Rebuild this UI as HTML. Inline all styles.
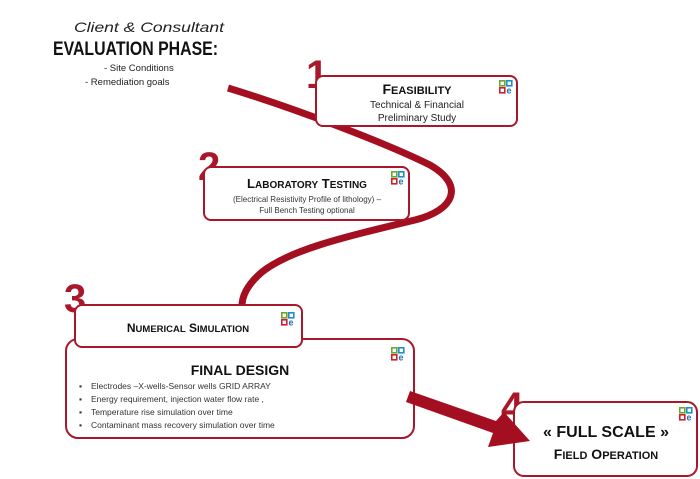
<!DOCTYPE html>
<html><head><meta charset="utf-8"><style>
body{margin:0;background:#fff;}
svg{display:block;}
text{font-family:"Liberation Sans",sans-serif;}
</style></head><body>
<svg width="700" height="479" viewBox="0 0 700 479" xmlns="http://www.w3.org/2000/svg">
<defs>
<g id="logo">
<rect x="0.8" y="0.8" width="5" height="5" fill="none" stroke="#6aa832" stroke-width="1.6"/>
<rect x="7.8" y="0.8" width="5" height="5" fill="none" stroke="#1f8fd0" stroke-width="1.6"/>
<rect x="0.8" y="7.8" width="5" height="5" fill="none" stroke="#d0202f" stroke-width="1.6"/>
<text x="7.5" y="13.5" font-size="9" font-weight="bold" fill="#1f6fb0">e</text>
</g>
</defs>
<!-- header -->
<text x="74" y="32" font-size="14" font-style="italic" fill="#222" textLength="150" lengthAdjust="spacingAndGlyphs">Client &amp; Consultant</text>
<text x="53" y="55" font-size="19" font-weight="bold" fill="#111" textLength="165" lengthAdjust="spacingAndGlyphs">EVALUATION PHASE:</text>
<text x="104" y="71" font-size="9.5" fill="#222">-  Site Conditions</text>
<text x="85" y="85" font-size="9.5" fill="#222">-    Remediation goals</text>
<!-- ribbon -->
<path d="M228,88 C300,110 390,145 430,165 C465,185 455,210 415,220 C340,238 290,250 262,272 C248,284 242,295 242,306" fill="none" stroke="#a30f20" stroke-width="7"/>
<!-- box1 -->
<text x="306" y="88" font-size="40" font-weight="bold" fill="#a8182a">1</text>
<rect x="316" y="76" width="201" height="50" rx="7" fill="#fff" stroke="#a8182a" stroke-width="2"/>
<text x="417" y="94" font-size="14" font-weight="bold" text-anchor="middle" fill="#111">F<tspan font-size="11">EASIBILITY</tspan></text>
<text x="417" y="108" font-size="10" text-anchor="middle" fill="#222">Technical &amp; Financial</text>
<text x="417" y="121" font-size="10" text-anchor="middle" fill="#222">Preliminary Study</text>
<use href="#logo" x="499" y="80"/>
<!-- box2 -->
<text x="198" y="180" font-size="40" font-weight="bold" fill="#a8182a">2</text>
<rect x="204" y="167" width="205" height="53" rx="7" fill="#fff" stroke="#a8182a" stroke-width="2"/>
<text x="307" y="188" font-size="13" font-weight="bold" text-anchor="middle" fill="#111">L<tspan font-size="10">ABORATORY</tspan> T<tspan font-size="10">ESTING</tspan></text>
<text x="307" y="202" font-size="8" text-anchor="middle" fill="#333">(Electrical Resistivity Profile of lithology) –</text>
<text x="307" y="213" font-size="8" text-anchor="middle" fill="#333">Full Bench Testing optional</text>
<use href="#logo" x="391" y="171"/>
<!-- final design -->
<rect x="66" y="339" width="348" height="99" rx="12" fill="#fff" stroke="#a8182a" stroke-width="2"/>
<text x="240" y="375" font-size="14" font-weight="bold" text-anchor="middle" fill="#111">FINAL DESIGN</text>
<g font-size="8.5" fill="#333">
<text x="79" y="389">▪</text><text x="91" y="389">Electrodes –X-wells-Sensor wells GRID ARRAY</text>
<text x="79" y="402">▪</text><text x="91" y="402">Energy requirement, injection water flow rate ,</text>
<text x="79" y="415">▪</text><text x="91" y="415">Temperature rise simulation over time</text>
<text x="79" y="428">▪</text><text x="91" y="428">Contaminant mass recovery simulation over time</text>
</g>
<use href="#logo" x="391" y="347"/>
<!-- box3 -->
<text x="64" y="312" font-size="40" font-weight="bold" fill="#a8182a">3</text>
<rect x="75" y="305" width="227" height="42" rx="7" fill="#fff" stroke="#a8182a" stroke-width="2"/>
<text x="188" y="332" font-size="12" font-weight="bold" text-anchor="middle" fill="#111">N<tspan font-size="9.5">UMERICAL</tspan> S<tspan font-size="9.5">IMULATION</tspan></text>
<use href="#logo" x="281" y="312"/>
<!-- box4 -->
<text x="501" y="420" font-size="40" font-weight="bold" fill="#a8182a">4</text>
<rect x="514" y="402" width="183" height="74" rx="10" fill="#fff" stroke="#a8182a" stroke-width="2"/>
<text x="606" y="437" font-size="16" font-weight="bold" text-anchor="middle" fill="#111">« FULL SCALE »</text>
<text x="606" y="459" font-size="14" font-weight="bold" text-anchor="middle" fill="#111">F<tspan font-size="11">IELD</tspan> O<tspan font-size="11">PERATION</tspan></text>
<use href="#logo" x="679" y="407"/>
<!-- arrow -->
<path d="M410,391 L496,421 L504,412 L530,441 L488,447 L493,433 L406,402 Z" fill="#a30f20"/>
</svg>
</body></html>
